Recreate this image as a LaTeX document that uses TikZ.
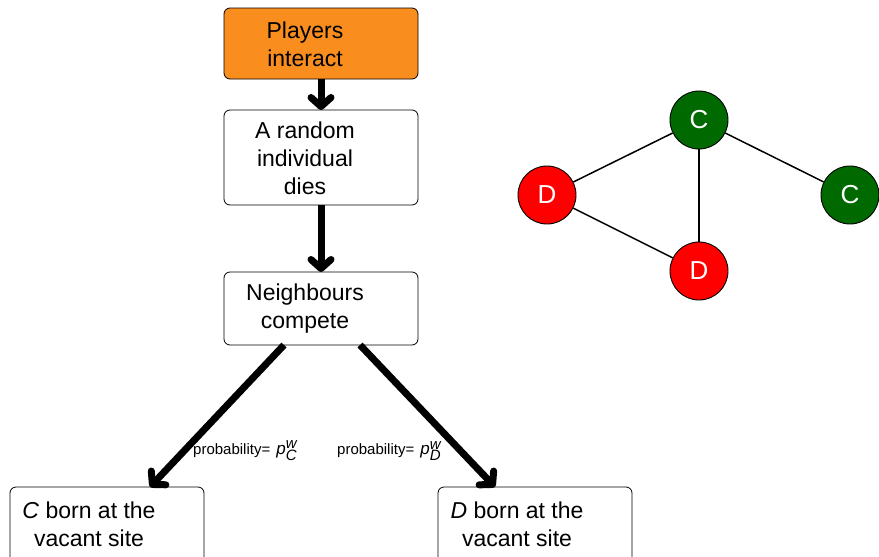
\documentclass[tikz,border=0pt]{standalone}
\usepackage{fontspec}
\setmainfont{Liberation Sans}
\usetikzlibrary{arrows.meta}
\definecolor{boxorange}{HTML}{F98E1F}
\definecolor{cgreen}{HTML}{006A00}
\definecolor{dred}{HTML}{FF0000}
\newcommand{\probof}[1]{probability=\hspace{6pt}{\fontsize{17}{17}\selectfont\textit{p}}$_{\textit{#1}}^{\textit{w}}$}
\begin{document}
\begin{tikzpicture}[x=1pt,y=-1pt,
  stepbox/.style={draw, rounded corners=6pt, line width=0.8pt, minimum width=194pt},
  boxtext/.style={align=center, font=\fontsize{23}{28}\selectfont, inner sep=0pt},
  flow/.style={line width=7pt, -{Straight Barb[length=9pt,width=20pt,line cap=round,line join=round]}},
  player/.style={circle, draw, line width=0.9pt, minimum size=58pt, inner sep=0pt,
    text=white, font=\fontsize{26}{30}\selectfont},
  link/.style={line width=1.5pt},
  prob/.style={font=\fontsize{15}{17}\selectfont, inner sep=0pt}]
\useasboundingbox (0,0) rectangle (879,557);
\clip (0,0) rectangle (879,557);

% process boxes
\draw[stepbox, fill=boxorange] (224,8) rectangle (418,79);
\node[boxtext] (play) at (305,44) {Players\\interact};
\coordinate (playB) at (321,79);
\draw[stepbox] (224,110) rectangle (418,205);
\node[boxtext] (die) at (305,158) {A random\\individual\\dies};
\coordinate (dieT) at (321,110);
\coordinate (dieB) at (321,205);
\draw[stepbox] (224,272) rectangle (418,345);
\node[boxtext] (comp) at (305,309) {Neighbours\\compete};
\coordinate (compT) at (321,272);
\coordinate (compL) at (284,345);
\coordinate (compR) at (360,345);
\draw[stepbox] (10,487) rectangle (204,570);
\node[boxtext] (cborn) at (89,524) {\textit{C} born at the\\vacant site};
\coordinate (cbornT) at (150,487);
\draw[stepbox] (438,487) rectangle (632,570);
\node[boxtext] (dborn) at (517,524) {\textit{D} born at the\\vacant site};
\coordinate (dbornT) at (495,487);

% flow arrows
\draw[flow] (playB) -- (dieT);
\draw[flow] (dieB) -- (compT);
\draw[flow] (compL) -- (cbornT);
\draw[flow] (compR) -- (dbornT);

% branch labels
\node[prob, anchor=west] (pc) at (193,451) {\probof{C}};
\node[prob, anchor=west] (pd) at (337,451) {\probof{D}};

% interaction graph
\node[player, fill=cgreen] (c1) at (699,120) {C};
\node[player, fill=dred] (d1) at (547,195) {D};
\node[player, fill=dred] (d2) at (699,271) {D};
\node[player, fill=cgreen] (c2) at (850,195) {C};
\draw[link] (c1) -- (d1);
\draw[link] (c1) -- (d2);
\draw[link] (c1) -- (c2);
\draw[link] (d1) -- (d2);
\end{tikzpicture}
\end{document}
